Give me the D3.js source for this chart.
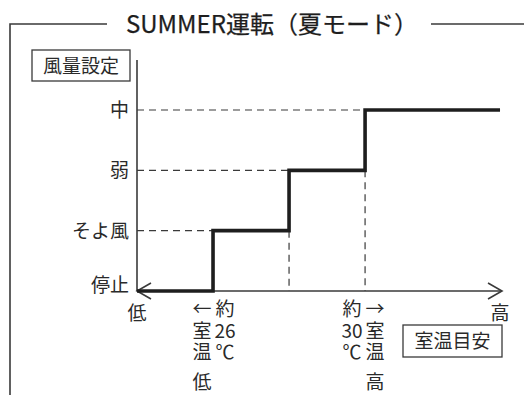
<!DOCTYPE html>
<html>
<head>
<meta charset="utf-8">
<style>
body { margin: 0; background: #fff; }
svg { font-family: "Noto Sans CJK JP", "Noto Sans", sans-serif; }
.note {
  font-family: "Noto Sans CJK JP", "Noto Sans", sans-serif;
  font-size: 19px;
  line-height: 21.5px;
  white-space: pre;
  text-align: center;
  color: #2a2a2a;
  margin: 0;
}
</style>
<script src="https://d3js.org/d3.v7.min.js"></script>
</head>
<body>
<svg id="chart" width="524" height="395"></svg>
<script>

var width = 524;
var height = 395;

// fan levels, bottom to top
var levels = ["停止", "そよ風", "弱", "中"];
// room temperature (°C) where the fan steps up one level
var stepTemps = [26, 28, 30];
var lineEndTemp = 33.55;
var title = "SUMMER運転（夏モード）";
var yTitle = "風量設定";
var xTitle = "室温目安";
// stacked notes under the 26°C and 30°C steps
var lowNote = [["←", "室", "温"], ["約", "26", "℃"]];
var highNote = [["約", "30", "℃"], ["→", "室", "温"]];

var ink = "#2a2a2a";
var lineCol = "#3a3a3a";

var svg = d3.select("#chart");

// temperature on x, level index on y
var x = d3.scaleLinear().domain([24, 33.76]).range([137, 508]);
var y = d3.scaleLinear().domain([0, 3]).range([291, 110]);

// outer frame with title
svg.append("path")
    .attr("d", "M107,24 H10 V395")
    .attr("fill", "none").attr("stroke", lineCol).attr("stroke-width", 1.6);
svg.append("line")
    .attr("x1", 431).attr("x2", 524).attr("y1", 24).attr("y2", 24)
    .attr("stroke", lineCol).attr("stroke-width", 1.6);
svg.append("text")
    .attr("x", 272).attr("y", 33)
    .attr("text-anchor", "middle")
    .style("font-size", "24px")
    .attr("fill", "#1e1e1e")
    .attr("stroke", "#1e1e1e")
    .attr("stroke-width", 0.25)
    .text(title);

// dashed guides
var guides = svg.append("g")
    .attr("stroke", lineCol)
    .attr("stroke-width", 1.2)
    .attr("stroke-dasharray", "7,5");

stepTemps.forEach(function(t, i) {
    // horizontal guide to the step corner
    guides.append("line")
        .attr("x1", x(24)).attr("x2", x(t))
        .attr("y1", y(i + 1)).attr("y2", y(i + 1));
    // vertical guide below the riser (not for the first step)
    if (i > 0) {
        guides.append("line")
            .attr("x1", x(t)).attr("x2", x(t))
            .attr("y1", y(i)).attr("y2", y(0));
    }
});

// axes
svg.append("line")
    .attr("x1", x(24)).attr("x2", x(24))
    .attr("y1", 60).attr("y2", y(0))
    .attr("stroke", lineCol).attr("stroke-width", 1.6);
svg.append("line")
    .attr("x1", x(24)).attr("x2", 502)
    .attr("y1", y(0)).attr("y2", y(0))
    .attr("stroke", lineCol).attr("stroke-width", 1.6);
// arrow heads: low at the origin, high at the end
svg.append("path")
    .attr("d", "M" + (x(24) + 14) + "," + (y(0) - 8) + " L" + x(24) + "," + y(0) + " L" + (x(24) + 14) + "," + (y(0) + 8))
    .attr("fill", "none").attr("stroke", lineCol).attr("stroke-width", 1.6);
svg.append("path")
    .attr("d", "M488," + (y(0) - 8) + " L502," + y(0) + " L488," + (y(0) + 8))
    .attr("fill", "none").attr("stroke", lineCol).attr("stroke-width", 1.6);

// the step line
var pts = [[24, 0]];
stepTemps.forEach(function(t, i) {
    pts.push([t, i]);
    pts.push([t, i + 1]);
});
pts.push([lineEndTemp, levels.length - 1]);

svg.append("path")
    .datum(pts)
    .attr("d", d3.line().x(function(d) { return x(d[0]); }).y(function(d) { return y(d[1]); }))
    .attr("fill", "none")
    .attr("stroke", "#1e1e1e")
    .attr("stroke-width", 3.6)
    .attr("stroke-linejoin", "miter");

// level labels
svg.selectAll(".lvl")
    .data(levels)
    .enter().append("text")
    .attr("class", "lvl")
    .attr("x", 129)
    .attr("y", function(d, i) { return y(i) + 7 - (i === 0 ? 6 : 0); })
    .attr("text-anchor", "end")
    .style("font-size", "19px")
    .attr("fill", ink)
    .text(function(d) { return d; });

// boxed axis titles
function boxLabel(txt, bx, by, bw, bh) {
    svg.append("rect")
        .attr("x", bx).attr("y", by).attr("width", bw).attr("height", bh)
        .attr("fill", "#fff").attr("stroke", lineCol).attr("stroke-width", 1.3);
    svg.append("text")
        .attr("x", bx + bw / 2).attr("y", by + bh / 2 + 7)
        .attr("text-anchor", "middle")
        .style("font-size", "19px")
        .attr("fill", ink)
        .text(txt);
}
boxLabel(yTitle, 32, 50, 98, 31);
boxLabel(xTitle, 403, 325, 99, 32);

// single labels
function label(txt, lx, ly) {
    svg.append("text")
        .attr("x", lx).attr("y", ly)
        .attr("text-anchor", "middle")
        .style("font-size", "19px")
        .attr("fill", ink)
        .text(txt);
}
label("低", x(24), 320);
label("高", 500, 320);

// stacked columns of characters, one block per column
function column(items, cx) {
    svg.append("foreignObject")
        .attr("x", cx - 14).attr("y", 297)
        .attr("width", 28).attr("height", 70)
        .append("xhtml:div")
        .attr("class", "note")
        .text(items.join("\n"));
}
column(lowNote[0], x(stepTemps[0]) - 11);
column(lowNote[1], x(stepTemps[0]) + 12);
column(highNote[0], x(stepTemps[2]) - 13);
column(highNote[1], x(stepTemps[2]) + 10);
label("低", x(stepTemps[0]) - 11, 389);
label("高", x(stepTemps[2]) + 10, 389);

</script>
</body>
</html>
